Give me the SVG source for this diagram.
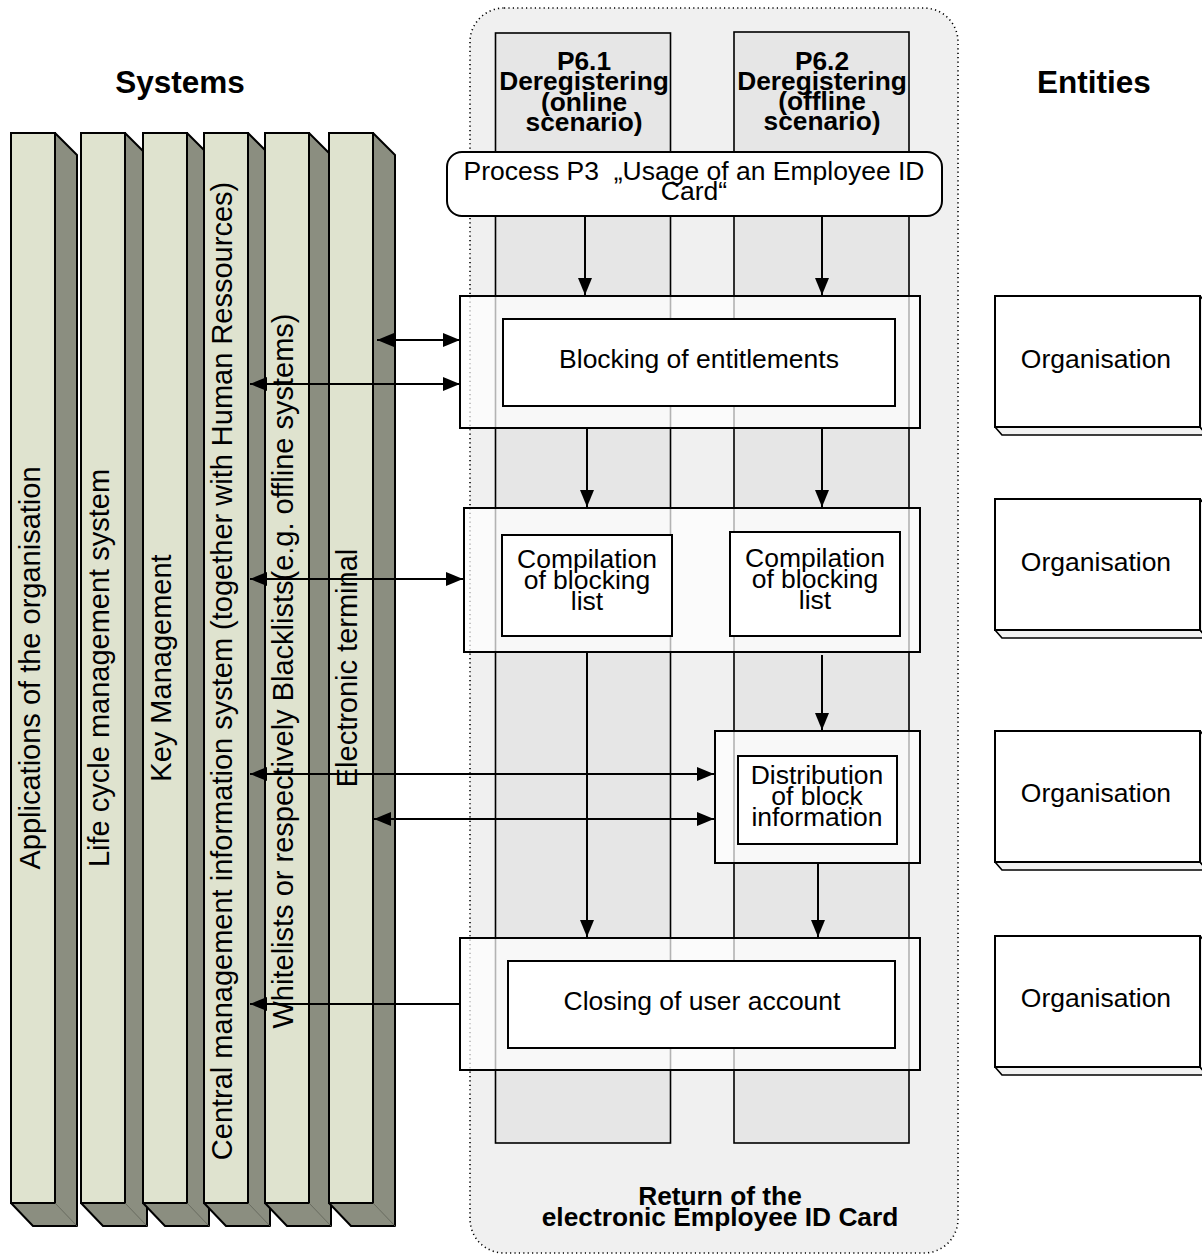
<svg xmlns="http://www.w3.org/2000/svg" width="1202" height="1254" viewBox="0 0 1202 1254">
  <style>
    text { font-family: "Liberation Sans", Arial, sans-serif; fill: #000; }
    .hdr { font-size: 31.5px; font-weight: bold; text-anchor: middle; }
    .sys { font-size: 29px; text-anchor: middle; }
    .lbl { font-size: 26.5px; text-anchor: middle; }
    .lane-t { font-size: 26.3px; font-weight: bold; text-anchor: middle; }
    .front { fill: #dfe3cf; stroke: #000; stroke-width: 2; }
    .depth { fill: #8b8e80; stroke: #000; stroke-width: 2; stroke-linejoin: round; }
    .edge { stroke: #5f6257; stroke-width: 0.8; fill: none; }
    .lane { fill: #e6e6e6; stroke: #000; stroke-width: 1.6; }
    .group { fill: #fff; fill-opacity: 0.7; stroke: #000; stroke-width: 2; }
    .task { fill: #fff; stroke: #000; stroke-width: 2; }
    .ent { fill: #fff; stroke: #000; stroke-width: 2; }
    .ent-d { fill: #f2f2f2; stroke: #000; stroke-width: 1.6; stroke-linejoin: round; }
    .conn { stroke: #000; stroke-width: 2; fill: none; }
  </style>
  <defs>
    <marker id="head" markerUnits="userSpaceOnUse" markerWidth="18" markerHeight="14" refX="17" refY="7" orient="auto-start-reverse" viewBox="0 0 18 14">
      <path d="M0,0 L17,7 L0,14 z" fill="#000"/>
    </marker>
  </defs>

  <rect x="0" y="0" width="1202" height="1254" fill="#fff"/>

  <!-- column headings -->
  <text class="hdr" x="180" y="93">Systems</text>
  <text class="hdr" x="1094" y="93">Entities</text>

  <!-- system pillars (3D bars) -->
  <g id="sys-applications">
    <polygon class="depth" points="55,133 77,155 77,1226 33,1226 11,1203"/>
    <rect class="front" x="11" y="133" width="44" height="1070"/>
    <line class="edge" x1="55" y1="1203" x2="77" y2="1226"/>
    <text class="sys" transform="rotate(-90 40 668)" x="40" y="668">Applications of the organisation</text>
  </g>
  <g id="sys-lifecycle">
    <polygon class="depth" points="125,133 147,155 147,1226 103,1226 81,1203"/>
    <rect class="front" x="81" y="133" width="44" height="1070"/>
    <line class="edge" x1="125" y1="1203" x2="147" y2="1226"/>
    <text class="sys" transform="rotate(-90 109 668)" x="109" y="668">Life cycle management system</text>
  </g>
  <g id="sys-keymgmt">
    <polygon class="depth" points="187,133 209,155 209,1226 165,1226 143,1203"/>
    <rect class="front" x="143" y="133" width="44" height="1070"/>
    <line class="edge" x1="187" y1="1203" x2="209" y2="1226"/>
    <text class="sys" transform="rotate(-90 171 668)" x="171" y="668">Key Management</text>
  </g>
  <g id="sys-central">
    <polygon class="depth" points="248,133 270,155 270,1226 226,1226 204,1203"/>
    <rect class="front" x="204" y="133" width="44" height="1070"/>
    <line class="edge" x1="248" y1="1203" x2="270" y2="1226"/>
    <text class="sys" transform="rotate(-90 232 671)" x="232" y="671">Central management information system (together with Human Ressources)</text>
  </g>
  <g id="sys-lists">
    <polygon class="depth" points="309,133 331,155 331,1226 287,1226 265,1203"/>
    <rect class="front" x="265" y="133" width="44" height="1070"/>
    <line class="edge" x1="309" y1="1203" x2="331" y2="1226"/>
    <text class="sys" transform="rotate(-90 293 671)" x="293" y="671">Whitelists or respectively Blacklists(e.g. offline systems)</text>
  </g>
  <g id="sys-terminal">
    <polygon class="depth" points="373,133 395,155 395,1226 351,1226 329,1203"/>
    <rect class="front" x="329" y="133" width="44" height="1070"/>
    <line class="edge" x1="373" y1="1203" x2="395" y2="1226"/>
    <text class="sys" transform="rotate(-90 357 668)" x="357" y="668">Electronic terminal</text>
  </g>

  <!-- process container -->
  <g id="process-return">
    <rect x="470" y="8" width="488" height="1245" rx="34" fill="#f0f0f0" stroke="#000" stroke-width="1.6" stroke-dasharray="1.2 3.2"/>
    <text class="lane-t" x="720" y="1205">Return of the</text>
    <text class="lane-t" x="720" y="1226">electronic Employee ID Card</text>
  </g>

  <!-- swim lanes -->
  <g id="lane-p61">
    <rect class="lane" x="495.5" y="33" width="175" height="1110"/>
    <text class="lane-t" x="584" y="70">P6.1</text>
    <text class="lane-t" x="584" y="90">Deregistering</text>
    <text class="lane-t" x="584" y="111">(online</text>
    <text class="lane-t" x="584" y="131">scenario)</text>
  </g>
  <g id="lane-p62">
    <rect class="lane" x="734" y="32" width="175" height="1111"/>
    <text class="lane-t" x="822" y="70">P6.2</text>
    <text class="lane-t" x="822" y="90">Deregistering</text>
    <text class="lane-t" x="822" y="110">(offline</text>
    <text class="lane-t" x="822" y="130">scenario)</text>
  </g>

  <!-- trigger process -->
  <g id="process-p3">
    <rect class="task" x="447" y="152" width="495" height="64" rx="15"/>
    <text class="lbl" x="694" y="180" xml:space="preserve">Process P3  „Usage of an Employee ID</text>
    <text class="lbl" x="694" y="200">Card“</text>
  </g>

  <!-- process steps -->
  <g id="step-blocking">
    <rect class="group" x="460" y="296" width="460" height="132"/>
    <rect class="task" x="503" y="319" width="392" height="87"/>
    <text class="lbl" x="699" y="368">Blocking of entitlements</text>
  </g>
  <g id="step-compilation">
    <rect class="group" x="464" y="508" width="456" height="144"/>
    <rect class="task" x="502" y="535" width="170" height="101"/>
    <text class="lbl" x="587" y="568">Compilation</text>
    <text class="lbl" x="587" y="589">of blocking</text>
    <text class="lbl" x="587" y="610">list</text>
    <rect class="task" x="730" y="532" width="170" height="104"/>
    <text class="lbl" x="815" y="567">Compilation</text>
    <text class="lbl" x="815" y="588">of blocking</text>
    <text class="lbl" x="815" y="609">list</text>
  </g>
  <g id="step-distribution">
    <rect class="group" x="715" y="731" width="205" height="132"/>
    <rect class="task" x="738" y="756" width="159" height="88"/>
    <text class="lbl" x="817" y="784">Distribution</text>
    <text class="lbl" x="817" y="805">of block</text>
    <text class="lbl" x="817" y="826">information</text>
  </g>
  <g id="step-closing">
    <rect class="group" x="460" y="938" width="460" height="132"/>
    <rect class="task" x="508" y="961" width="387" height="87"/>
    <text class="lbl" x="702" y="1010">Closing of user account</text>
  </g>

  <!-- responsible entities -->
  <g id="entity-1">
    <polygon class="ent-d" points="995,427 1200,427 1207,435 1002,435"/>
    <polygon class="ent-d" points="1200,296 1207,304 1207,435 1200,427"/>
    <rect class="ent" x="995" y="296" width="205" height="131"/>
    <text class="lbl" x="1096" y="368">Organisation</text>
  </g>
  <g id="entity-2">
    <polygon class="ent-d" points="995,630 1200,630 1207,638 1002,638"/>
    <polygon class="ent-d" points="1200,499 1207,507 1207,638 1200,630"/>
    <rect class="ent" x="995" y="499" width="205" height="131"/>
    <text class="lbl" x="1096" y="571">Organisation</text>
  </g>
  <g id="entity-3">
    <polygon class="ent-d" points="995,862 1200,862 1207,870 1002,870"/>
    <polygon class="ent-d" points="1200,731 1207,739 1207,870 1200,862"/>
    <rect class="ent" x="995" y="731" width="205" height="131"/>
    <text class="lbl" x="1096" y="802">Organisation</text>
  </g>
  <g id="entity-4">
    <polygon class="ent-d" points="995,1067 1200,1067 1207,1075 1002,1075"/>
    <polygon class="ent-d" points="1200,936 1207,944 1207,1075 1200,1067"/>
    <rect class="ent" x="995" y="936" width="205" height="131"/>
    <text class="lbl" x="1096" y="1007">Organisation</text>
  </g>

  <!-- connectors -->
  <g id="connectors">
    <line class="conn" x1="585" y1="217" x2="585" y2="295" marker-end="url(#head)"/>
    <line class="conn" x1="822" y1="217" x2="822" y2="295" marker-end="url(#head)"/>
    <line class="conn" x1="587" y1="429" x2="587" y2="507" marker-end="url(#head)"/>
    <line class="conn" x1="822" y1="429" x2="822" y2="507" marker-end="url(#head)"/>
    <line class="conn" x1="587" y1="653" x2="587" y2="937" marker-end="url(#head)"/>
    <line class="conn" x1="822" y1="655" x2="822" y2="730" marker-end="url(#head)"/>
    <line class="conn" x1="818" y1="864" x2="818" y2="937" marker-end="url(#head)"/>

    <line class="conn" x1="377" y1="340" x2="460" y2="340" marker-start="url(#head)" marker-end="url(#head)"/>
    <line class="conn" x1="250" y1="384" x2="460" y2="384" marker-start="url(#head)" marker-end="url(#head)"/>
    <line class="conn" x1="250" y1="579" x2="463" y2="579" marker-start="url(#head)" marker-end="url(#head)"/>
    <line class="conn" x1="250" y1="774" x2="714" y2="774" marker-start="url(#head)" marker-end="url(#head)"/>
    <line class="conn" x1="374" y1="819" x2="714" y2="819" marker-start="url(#head)" marker-end="url(#head)"/>
    <line class="conn" x1="460" y1="1004" x2="250" y2="1004" marker-end="url(#head)"/>
  </g>
</svg>
